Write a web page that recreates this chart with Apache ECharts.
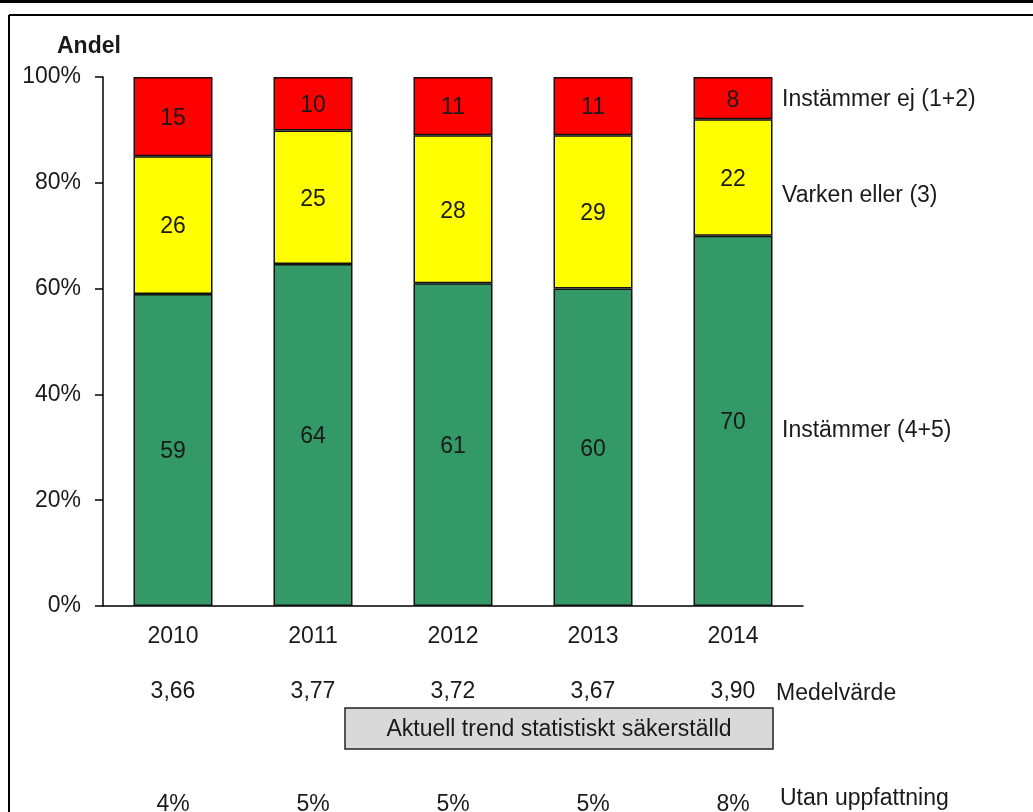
<!DOCTYPE html>
<html>
<head>
<meta charset="utf-8">
<script src="https://cdn.jsdelivr.net/npm/echarts@6/dist/echarts.min.js"></script>
<style>
html,body{margin:0;padding:0;background:#fff;}
#chart{width:1033px;height:812px;}
</style>
</head>
<body>
<div id="chart"></div>
<script>
var years = ['2010', '2011', '2012', '2013', '2014'];
var instammer = [59, 64, 61, 60, 70];
var varken = [26, 25, 28, 29, 22];
var instammerEj = [15, 10, 11, 11, 8];
var medelvarde = ['3,66', '3,77', '3,72', '3,67', '3,90'];
var utanUppfattning = ['4%', '5%', '5%', '5%', '8%'];
var yTicks = [0, 20, 40, 60, 80, 100];

var FONT = '"Liberation Sans", Arial, sans-serif';
var TXT = '#1a1a1a';
var FS = 23;

var totals = years.map(function (_, i) { return instammer[i] + varken[i] + instammerEj[i]; });
function share(arr) { return arr.map(function (v, i) { return v / totals[i] * 100; }); }

function barSeries(name, raw, color) {
  return {
    name: name, type: 'bar', stack: 'total', barWidth: 79,
    data: share(raw),
    itemStyle: { color: color, borderColor: '#111', borderWidth: 1.5 },
    label: {
      show: true, position: 'inside', offset: [0, 2], fontFamily: FONT, fontSize: FS, color: TXT,
      formatter: function (p) { return raw[p.dataIndex]; }
    },
    emphasis: { disabled: true }
  };
}

var chart = echarts.init(document.getElementById('chart'));
chart.setOption({
  animation: false,
  backgroundColor: '#fff',
  grid: { left: 103, top: 77, width: 700, height: 529, containLabel: false, outerBoundsMode: 'none' },
  xAxis: [
    {
      type: 'category', data: years, position: 'bottom',
      axisLine: { show: true, lineStyle: { color: '#000', width: 1.5 } },
      axisTick: { show: false },
      axisLabel: { fontFamily: FONT, fontSize: FS, color: TXT, margin: 19 }
    },
    {
      type: 'category', data: years, position: 'bottom', offset: 55,
      axisLine: { show: false }, axisTick: { show: false },
      axisLabel: { fontFamily: FONT, fontSize: FS, color: TXT, margin: 19,
        formatter: function (v, i) { return medelvarde[i]; } }
    },
    {
      type: 'category', data: years, position: 'bottom', offset: 167,
      axisLine: { show: false }, axisTick: { show: false },
      axisLabel: { fontFamily: FONT, fontSize: FS, color: TXT, margin: 20,
        formatter: function (v, i) { return utanUppfattning[i]; } }
    }
  ],
  yAxis: {
    type: 'value', min: yTicks[0], max: yTicks[yTicks.length - 1], interval: 20,
    axisLine: { show: true, lineStyle: { color: '#000', width: 1.5 } },
    axisTick: { show: true, inside: false, length: 8, lineStyle: { color: '#000', width: 1.5 } },
    splitLine: { show: false },
    axisLabel: { fontFamily: FONT, fontSize: FS, color: TXT, margin: 22, formatter: '{value}%' }
  },
  series: [
    barSeries('Instämmer (4+5)', instammer, '#339966'),
    barSeries('Varken eller (3)', varken, '#FFFF00'),
    barSeries('Instämmer ej (1+2)', instammerEj, '#FF0000')
  ],
  graphic: [
    { type: 'line', shape: { x1: 0, y1: 1.5, x2: 1033, y2: 1.5 }, style: { stroke: '#000', lineWidth: 3 }, silent: true },
    { type: 'line', shape: { x1: 9, y1: 15, x2: 1033, y2: 15 }, style: { stroke: '#000', lineWidth: 2 }, silent: true },
    { type: 'line', shape: { x1: 9, y1: 15, x2: 9, y2: 812 }, style: { stroke: '#000', lineWidth: 2 }, silent: true },
    { type: 'text', left: 57, top: 35, style: { text: 'Andel', font: 'bold 23px ' + FONT, fill: TXT } },
    { type: 'text', x: 782, y: 100, style: { text: 'Instämmer ej (1+2)', font: FS + 'px ' + FONT, fill: TXT, textVerticalAlign: 'middle' } },
    { type: 'text', x: 782, y: 196, style: { text: 'Varken eller (3)', font: FS + 'px ' + FONT, fill: TXT, textVerticalAlign: 'middle' } },
    { type: 'text', x: 782, y: 431, style: { text: 'Instämmer (4+5)', font: FS + 'px ' + FONT, fill: TXT, textVerticalAlign: 'middle' } },
    { type: 'text', x: 776, y: 694, style: { text: 'Medelvärde', font: FS + 'px ' + FONT, fill: TXT, textVerticalAlign: 'middle' } },
    { type: 'rect', shape: { x: 345, y: 708, width: 428, height: 41 }, style: { fill: '#d9d9d9', stroke: '#222', lineWidth: 1.5 } },
    { type: 'text', x: 559, y: 730, style: { text: 'Aktuell trend statistiskt säkerställd', font: FS + 'px ' + FONT, fill: TXT, textAlign: 'center', textVerticalAlign: 'middle' } },
    { type: 'text', x: 780, y: 799, style: { text: 'Utan uppfattning', font: FS + 'px ' + FONT, fill: TXT, textVerticalAlign: 'middle' } }
  ]
});
</script>
</body>
</html>
